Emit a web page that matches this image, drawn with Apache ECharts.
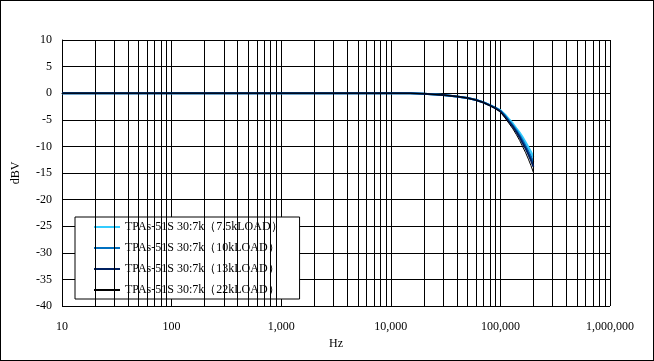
<!DOCTYPE html>
<html><head><meta charset="utf-8">
<script src="https://cdn.jsdelivr.net/npm/echarts@6/dist/echarts.min.js"></script>
<style>
html,body{margin:0;padding:0;background:#fff;}
#c{width:654px;height:361px;box-sizing:border-box;border:1px solid #000;}
</style></head>
<body><div id="c"></div>
<script>
// Frequencies (Hz)
const freqs = [10, 20, 50, 100, 200, 500, 1000, 2000, 5000, 10000, 15000, 20000, 30000, 40000, 50000, 60000, 70000, 80000, 90000, 100000, 110000, 120000, 130000, 140000, 150000, 160000, 170000, 180000, 190000, 200000];
// Responses (dBV)
const load7_5k = [0,0,0,0,0,0,0,0,0,0,-0.02,-0.1,-0.35,-0.6,-0.9,-1.25,-1.7,-2.2,-2.7,-3.2,-4.0,-4.9,-5.7,-6.6,-7.4,-8.3,-9.2,-10.1,-11.0,-12.0];
const load10k  = [0,0,0,0,0,0,0,0,0,0,-0.02,-0.1,-0.35,-0.6,-0.9,-1.27,-1.72,-2.25,-2.75,-3.3,-4.2,-5.2,-6.1,-7.0,-7.9,-8.9,-9.9,-10.9,-11.9,-13.0];
const load13k  = [0,0,0,0,0,0,0,0,0,0,-0.02,-0.1,-0.35,-0.6,-0.9,-1.28,-1.75,-2.3,-2.8,-3.4,-4.4,-5.4,-6.3,-7.3,-8.3,-9.4,-10.4,-11.5,-12.6,-13.8];
const load22k  = [0,0,0,0,0,0,0,0,0,0,-0.02,-0.1,-0.35,-0.6,-0.9,-1.3,-1.78,-2.35,-2.9,-3.5,-4.6,-5.7,-6.7,-7.8,-8.9,-10.1,-11.2,-12.4,-13.6,-14.9];
const seriesNames = ['TPAs-51S 30:7k（7.5kLOAD）','TPAs-51S 30:7k（10kLOAD）','TPAs-51S 30:7k（13kLOAD）','TPAs-51S 30:7k（22kLOAD）'];
const seriesData = [load7_5k, load10k, load13k, load22k];
const minorGrid = [20,30,40,50,60,70,80,90,200,300,400,500,600,700,800,900,2000,3000,4000,5000,6000,7000,8000,9000,20000,30000,40000,50000,60000,70000,80000,90000,200000,300000,400000,500000,600000,700000,800000,900000];

const colors = ['#33CCFF','#0070C0','#002060','#000000'];
const widths = [2,2,2,1];
const font = 'Liberation Serif, Times New Roman, serif';

const chart = echarts.init(document.getElementById('c'));
const series = seriesData.map((d,i)=>({
  name: seriesNames[i], type:'line', symbol:'none', showSymbol:false,
  data: freqs.map((f,j)=>[f,d[j]]),
  lineStyle:{color:colors[i], width:widths[i]}, itemStyle:{color:colors[i]},
  z: 3+i, animation:false
}));
series.push({
  type:'line', data:[], silent:true, animation:false,
  markLine:{symbol:'none', silent:true, label:{show:false}, animation:false,
    lineStyle:{color:'#000', width:1, type:'solid'},
    data: minorGrid.map(v=>({xAxis:v}))}
});
chart.setOption({
  animation:false,
  textStyle:{fontFamily:font},
  grid:{left:61, right:43, top:39, bottom:54},
  xAxis:{type:'log', logBase:10, min:10, max:1000000,
    name:'Hz', nameLocation:'middle', nameGap:28,
    nameTextStyle:{color:'#000', fontSize:12, fontFamily:font},
    axisLine:{show:true, lineStyle:{color:'#000', width:1}},
    axisTick:{show:false},
    axisLabel:{color:'#000', fontSize:12, fontFamily:font, margin:15,
      formatter:v=>Number(v).toLocaleString('en-US')},
    splitLine:{show:true, lineStyle:{color:'#000', width:1}}
  },
  yAxis:{type:'value', min:-40, max:10, interval:5,
    name:'dBV', nameLocation:'middle', nameGap:40, nameRotate:90,
    nameTextStyle:{color:'#000', fontSize:12, fontFamily:font},
    axisLine:{show:true, lineStyle:{color:'#000', width:1}},
    axisTick:{show:false},
    axisLabel:{color:'#000', fontSize:12, fontFamily:font, margin:10},
    splitLine:{show:true, lineStyle:{color:'#000', width:1}}
  },
  legend:{data:seriesNames, orient:'vertical', left:74, top:216,
    backgroundColor:'#fff', borderColor:'#000', borderWidth:1,
    padding:[4,17,3,18], itemGap:9, itemWidth:26, itemHeight:14,
    itemStyle:{opacity:0},
    textStyle:{color:'#000', fontSize:12, fontFamily:font}},
  series: series
});
</script></body></html>
